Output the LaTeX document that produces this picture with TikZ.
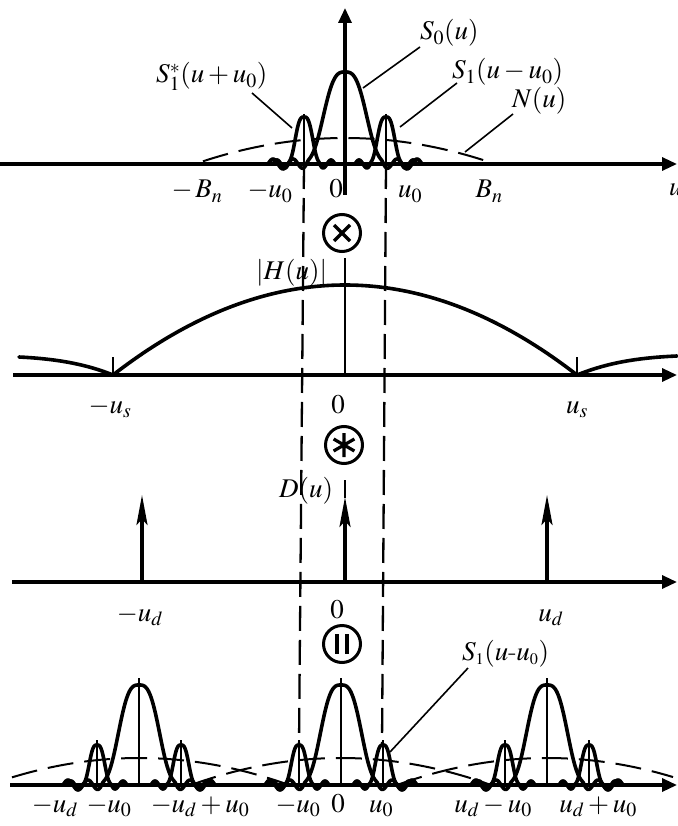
\documentclass[tikz,border=0pt]{standalone}
\usepackage{mathptmx}
\usetikzlibrary{arrows.meta}
% lobe: center, axis y, height, w, ripple start, half period, number of half periods, ripple amplitude
\newcommand{\lobeplot}[8]{%
  \pgfmathsetmacro{\lobeR}{#5+#6*#7}%
  \draw[lobe] plot[domain=-\lobeR:\lobeR, samples=161]
    ({#1+\x},{#2-#3*exp(-min((abs(\x)/#4)^3,30))+(abs(\x)>#5)*#8*sin(180*(abs(\x)-#5)/#6)});%
}
% noise arch: center, axis y, height, tmin, tmax
\newcommand{\noisearch}[5]{%
  \draw[noise] plot[domain=#4:#5, samples=90] ({#1+\x},{#2-#3*(1-(\x/150)*(\x/150))});%
}
\begin{document}
\begin{tikzpicture}[x=1pt,y=-1pt,
  lbl/.style={inner sep=0pt,font=\fontsize{27}{31}\selectfont},
  axisline/.style={line width=3.2pt,-{Triangle[length=15pt,width=13pt]}},
  lobe/.style={line width=3.6pt,line join=round,line cap=round},
  thinv/.style={line width=1.3pt},
  vdash/.style={line width=2.3pt,dash pattern=on 25pt off 9pt},
  noise/.style={line width=2pt,dash pattern=on 26pt off 11pt},
  leader/.style={line width=1.6pt},
  opcircle/.style={circle,draw,line width=3pt,minimum size=37pt,inner sep=0pt},
  opmark/.style={line width=3.2pt},
  spike/.style={line width=3.4pt,-{Stealth[length=30pt,width=11pt,inset=6pt]}},
]
\useasboundingbox (0,0) rectangle (677,826);

% ================= top panel =================
\coordinate (tL) at (0,164);
\coordinate (tR) at (677,164);
\draw[axisline] (tL) -- (tR);
\coordinate (vB) at (345,195);
\coordinate (vT) at (345,8);
\draw[axisline] (vB) -- (vT);
\noisearch{345}{164}{26}{-142}{147}
\lobeplot{345}{164}{92}{25}{37}{10}{4}{5}
\lobeplot{304}{164}{47}{10.2}{15}{8}{2}{4}
\lobeplot{386}{164}{47}{10.2}{15}{8}{2}{4}
\draw[thinv] (304,114) -- (304,164);
\draw[thinv] (386,114) -- (386,164);

% dashed guide lines
\coordinate (dLt) at (304,164);
\coordinate (dLb) at (299,745);
\coordinate (dRt) at (386,164);
\coordinate (dRb) at (382,745);
\draw[vdash] (dLt) -- (dLb);
\draw[vdash] (dRt) -- (dRb);

% labels top
\node[lbl,anchor=base west] (lS0) at (420,40) {$S_0(u)$};
\node[lbl,anchor=base west] (lS1s) at (156,83) {$S_1^*(u+u_0)$};
\node[lbl,anchor=base west] (lS1) at (452,79) {$S_1(u-u_0)$};
\node[lbl,anchor=base west] (lN) at (512,108) {$N(u)$};
\coordinate (pS0a) at (420,47);   \coordinate (pS0b) at (363,88);
\coordinate (pS1sa) at (252,93);  \coordinate (pS1sb) at (292,128);
\coordinate (pS1a) at (457,83);   \coordinate (pS1b) at (400,127);
\coordinate (pNa) at (513,114);   \coordinate (pNb) at (465,152);
\draw[leader] (pS0a) -- (pS0b);
\draw[leader] (pS1sa) -- (pS1sb);
\draw[leader] (pS1a) -- (pS1b);
\draw[leader] (pNa) -- (pNb);

\node[lbl,anchor=base] (tBm) at (197,198) {$-\,B_n$};
\node[lbl,anchor=base] (tum) at (270,198) {$-u_0$};
\node[lbl,anchor=base] (t0) at (336,198) {$0$};
\node[lbl,anchor=base] (tup) at (410,198) {$u_0$};
\node[lbl,anchor=base] (tBp) at (489,198) {$B_n$};
\node[lbl,anchor=base west] (tu) at (669,196) {$u$};

% operator 1
\node[opcircle] (mulop) at (342,233) {};
\draw[opmark] (mulop.center) ++(-8,-8) -- ++(16,16) (mulop.center) ++(8,-8) -- ++(-16,16);

% ================= H panel =================
\coordinate (hL) at (13,375);
\coordinate (hR) at (677,375);
\draw[axisline] (hL) -- (hR);
\draw[line width=2.2pt] (345,258) -- (345,375);
\draw[lobe] plot[domain=-232:232, samples=121] ({345+\x},{375-90*(1-(\x/232)*(\x/232))});
\draw[lobe] (19,357) .. controls (60,359) and (88,365) .. (113,375);
\draw[lobe] (577,375) .. controls (602,365) and (630,358) .. (677,356);
\draw[thinv] (113,357) -- (113,375);
\draw[thinv] (577,357) -- (577,375);
\node[lbl,anchor=base west] (lH) at (256,279) {$|H(u)|$};
\node[lbl,anchor=base] (hum) at (110,413) {$-u_s$};
\node[lbl,anchor=base] (h0) at (338,413) {$0$};
\node[lbl,anchor=base] (hup) at (577,413) {$u_s$};

% operator 2
\node[opcircle] (convop) at (344,445) {};
\draw[opmark] (convop.center) ++(0,-12) -- ++(0,24)
  (convop.center) ++(-10.4,-6) -- ++(20.8,12)
  (convop.center) ++(10.4,-6) -- ++(-20.8,12);

% ================= D panel =================
\coordinate (dL) at (12,582);
\coordinate (dR) at (677,582);
\draw[axisline] (dL) -- (dR);
\draw[spike] (142,582) -- (142,495);
\draw[line width=2.6pt] (345,498) -- (345,480);
\draw[spike] (345,582) -- (345,497);
\draw[spike] (547,582) -- (547,495);
\node[lbl,anchor=base] (lD) at (306,497) {$D(u)$};
\node[lbl,anchor=base] (dum) at (140,621) {$-u_d$};
\node[lbl,anchor=base] (d0) at (337,618) {$0$};
\node[lbl,anchor=base] (dup) at (551,621) {$u_d$};

% operator 3
\node[opcircle] (eqop) at (342,644) {};
\draw[opmark,line width=3.6pt] (eqop.center) ++(-5,-10) -- ++(0,20) (eqop.center) ++(5,-10) -- ++(0,20);

% ================= bottom panel =================
\coordinate (bL) at (10,785);
\coordinate (bR) at (677,785);
\draw[axisline] (bL) -- (bR);
\noisearch{139}{785}{27}{-127}{150}
\noisearch{341}{785}{27}{-150}{150}
\noisearch{547}{785}{27}{-150}{126}
\foreach \c in {139,341,547} {
  \lobeplot{\c}{785}{100}{23.7}{36}{10}{4}{5}
  \lobeplot{\c-42}{785}{40}{9}{14}{8}{2}{4}
  \lobeplot{\c+42}{785}{40}{9}{14}{8}{2}{4}
  \draw[thinv] (\c,678) -- (\c,785);
  \draw[thinv] ({\c-42},740) -- ({\c-42},785);
  \draw[thinv] ({\c+42},740) -- ({\c+42},785);
}
\node[lbl,anchor=base west] (lS1b) at (462,660) {$S_{\scriptscriptstyle 1}(u$-$u_{\scriptscriptstyle 0})$};
\coordinate (pBa) at (468,668);
\coordinate (pBb) at (390,752);
\draw[leader] (pBa) -- (pBb);

\node[lbl,anchor=base] (b1) at (55,812) {$-u_d$};
\node[lbl,anchor=base] (b2) at (109,812) {$-u_0$};
\node[lbl,anchor=base] (b3) at (200,812) {$-u_d+u_0$};
\node[lbl,anchor=base] (b4) at (298,812) {$-u_0$};
\node[lbl,anchor=base] (b5) at (338,812) {$0$};
\node[lbl,anchor=base] (b6) at (381,812) {$u_0$};
\node[lbl,anchor=base] (b7) at (493,812) {$u_d-u_0$};
\node[lbl,anchor=base] (b8) at (598,812) {$u_d+u_0$};
\end{tikzpicture}
\end{document}
